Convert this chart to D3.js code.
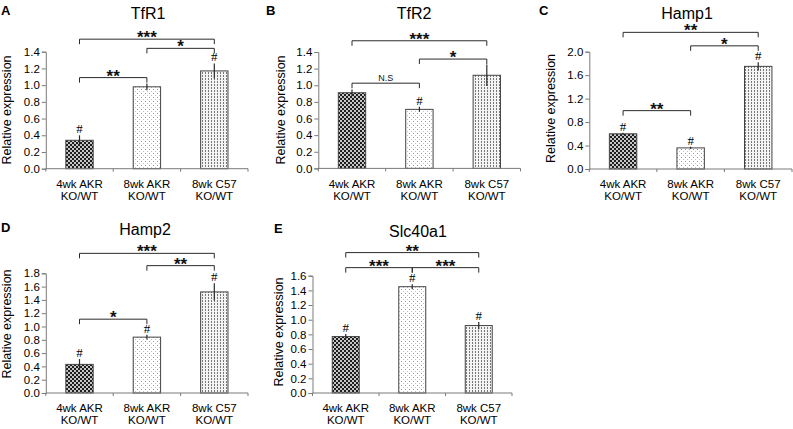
<!DOCTYPE html>
<html><head><meta charset="utf-8">
<script src="https://cdn.jsdelivr.net/npm/d3@7"></script>
<style>
html,body{margin:0;padding:0;background:#fff;}
svg{display:block;font-family:"Liberation Sans",Arial,sans-serif;}
</style></head>
<body><svg id="chart" width="793" height="429"></svg>
<script>
// ---------- data ----------
const catLine1 = ["4wk AKR", "8wk AKR", "8wk C57"];
const catLine2 = ["KO/WT", "KO/WT", "KO/WT"];

const tfr1Values = [0.34, 0.98, 1.17];
const tfr1Errors = [0.06, 0.04, 0.09];
const tfr1Hash = [true, false, true];
const tfr1Sig = [[0, 2, "***", 1.55], [1, 2, "*", 1.44], [0, 1, "**", 1.09]];

const tfr2Values = [0.91, 0.71, 1.12];
const tfr2Errors = [0.04, 0.03, 0.13];
const tfr2Hash = [false, true, false];
const tfr2Sig = [[0, 2, "***", 1.535], [1, 2, "*", 1.315], [0, 1, "N.S", 1.025]];

const hamp1Values = [0.60, 0.36, 1.75];
const hamp1Errors = [0.02, 0.02, 0.07];
const hamp1Hash = [true, true, true];
const hamp1Sig = [[0, 2, "**", 2.33], [1, 2, "*", 2.10], [0, 1, "**", 0.995]];

const hamp2Values = [0.43, 0.84, 1.52];
const hamp2Errors = [0.08, 0.035, 0.13];
const hamp2Hash = [true, true, true];
const hamp2Sig = [[0, 2, "***", 2.10], [1, 2, "**", 1.915], [0, 1, "*", 1.11]];

const slcValues = [0.77, 1.45, 0.92];
const slcErrors = [0.035, 0.035, 0.05];
const slcHash = [true, true, true];
const slcSig = [[0, 2, "**", 1.915], [0, 1, "***", 1.71], [1, 2, "***", 1.71]];

const ticks14 = [0, 0.2, 0.4, 0.6, 0.8, 1.0, 1.2, 1.4];
const ticks20 = [0, 0.4, 0.8, 1.2, 1.6, 2.0];
const ticks18 = [0, 0.2, 0.4, 0.6, 0.8, 1.0, 1.2, 1.4, 1.6, 1.8];
const ticks16 = [0, 0.2, 0.4, 0.6, 0.8, 1.0, 1.2, 1.4, 1.6];

// ---------- layout ----------
const panels = [
  {letter:"A", title:"TfR1", values:tfr1Values, errors:tfr1Errors, hash:tfr1Hash, sig:tfr1Sig, ticks:ticks14,
   x0:45.8, x1:248, yTop:51.7, yBot:168.7, titleX:148, titleY:19, lx:1, ly:15, ylx:11, yly:110},
  {letter:"B", title:"TfR2", values:tfr2Values, errors:tfr2Errors, hash:tfr2Hash, sig:tfr2Sig, ticks:ticks14,
   x0:318.3, x1:520.5, yTop:52, yBot:168.4, titleX:414, titleY:19, lx:266, ly:15, ylx:284.5, yly:110},
  {letter:"C", title:"Hamp1", values:hamp1Values, errors:hamp1Errors, hash:hamp1Hash, sig:hamp1Sig, ticks:ticks20,
   x0:589.3, x1:792, yTop:51.7, yBot:169, titleX:687, titleY:19, lx:539, ly:15, ylx:554.5, yly:108.5},
  {letter:"D", title:"Hamp2", values:hamp2Values, errors:hamp2Errors, hash:hamp2Hash, sig:hamp2Sig, ticks:ticks18,
   x0:45.8, x1:248, yTop:273.3, yBot:393, titleX:145, titleY:235, lx:1, ly:232, ylx:10.5, yly:324},
  {letter:"E", title:"Slc40a1", values:slcValues, errors:slcErrors, hash:slcHash, sig:slcSig, ticks:ticks16,
   x0:312.5, x1:512, yTop:275.7, yBot:393, titleX:418, titleY:236.5, lx:274, ly:232.5, ylx:283, yly:332}
];

const svg = d3.select("#chart");
const defs = svg.append("defs");

// pattern 1: dark with white dots
const p1 = defs.append("pattern").attr("id","pat0").attr("patternUnits","userSpaceOnUse").attr("width",4).attr("height",4);
p1.append("rect").attr("width",4).attr("height",4).attr("fill","#1e1e1e");
p1.append("circle").attr("cx",1).attr("cy",1).attr("r",1.0).attr("fill","#fff");
p1.append("circle").attr("cx",3).attr("cy",3).attr("r",1.0).attr("fill","#fff");
// pattern 2: sparse light dots
const p2 = defs.append("pattern").attr("id","pat1").attr("patternUnits","userSpaceOnUse").attr("width",4).attr("height",4);
p2.append("rect").attr("width",4).attr("height",4).attr("fill","#fff");
p2.append("rect").attr("x",1).attr("y",1).attr("width",1).attr("height",1).attr("fill","#999");
p2.append("rect").attr("x",3).attr("y",3).attr("width",1).attr("height",1).attr("fill","#c0c0c0");
// pattern 3: dense dotted columns
const p3 = defs.append("pattern").attr("id","pat2").attr("patternUnits","userSpaceOnUse").attr("width",3).attr("height",3);
p3.append("rect").attr("width",3).attr("height",3).attr("fill","#f4f4f4");
p3.append("rect").attr("x",1).attr("y",0).attr("width",1).attr("height",2).attr("fill","#777");

const axisColor = "#7a7a7a";
const inkColor = "#2a2a2a";
const fmt = d3.format(".1f");

panels.forEach(p => {
  const g = svg.append("g");
  const x = d3.scaleBand().domain(d3.range(p.values.length)).range([p.x0, p.x1])
              .paddingInner(0.594).paddingOuter(0.297);
  const yMax = p.ticks[p.ticks.length-1];
  const y = d3.scaleLinear().domain([0, yMax]).range([p.yBot, p.yTop]);

  // bars
  g.selectAll("rect.bar").data(p.values).join("rect")
    .attr("class","bar")
    .attr("x",(d,i)=>x(i)).attr("width",x.bandwidth())
    .attr("y",d=>y(d)).attr("height",d=>y(0)-y(d))
    .attr("fill",(d,i)=>`url(#pat${i})`)
    .attr("stroke","#444").attr("stroke-width",1);

  // error bars
  g.selectAll("line.err").data(p.values).join("line")
    .attr("class","err")
    .attr("x1",(d,i)=>x(i)+x.bandwidth()/2).attr("x2",(d,i)=>x(i)+x.bandwidth()/2)
    .attr("y1",(d,i)=>y(d - p.errors[i])).attr("y2",(d,i)=>y(d + p.errors[i]))
    .attr("stroke",inkColor).attr("stroke-width",1.2);

  // y axis
  const ya = g.append("g").attr("transform",`translate(${p.x0},0)`)
    .call(d3.axisLeft(y).tickValues(p.ticks).tickFormat(fmt).tickSize(4).tickPadding(2));
  ya.select(".domain").attr("stroke",axisColor);
  ya.selectAll(".tick line").attr("stroke",axisColor);
  ya.selectAll(".tick text").attr("font-size",11.5).attr("fill","#000")
    .attr("font-family","'Liberation Sans',Arial,sans-serif");

  // x axis: line with boundary ticks
  const xa = g.append("g").attr("transform",`translate(0,${p.yBot})`)
    .call(d3.axisBottom(x).tickSize(0).tickPadding(11).tickFormat(i=>catLine1[i]));
  xa.select(".domain").attr("stroke",axisColor).attr("d",`M${p.x0},0H${p.x1}`);
  xa.selectAll(".tick text").attr("font-size",11.5).attr("fill","#000")
    .attr("font-family","'Liberation Sans',Arial,sans-serif")
    .each(function(i){
      d3.select(this).append("tspan").attr("x",0).attr("dy","1.04em").text(catLine2[i]);
    });
  const bounds = d3.range(p.values.length+1).map(i => p.x0 + i*x.step());
  g.selectAll("line.xt").data(bounds).join("line").attr("class","xt")
    .attr("x1",d=>d).attr("x2",d=>d).attr("y1",p.yBot).attr("y2",p.yBot+3)
    .attr("stroke",axisColor);

  // hashes
  p.values.forEach((v,i)=>{
    if(!p.hash[i]) return;
    g.append("text").attr("x",x(i)+x.bandwidth()/2).attr("y",y(v+p.errors[i])-2)
      .attr("text-anchor","middle").attr("font-size",13)
      .attr("font-family","'Liberation Serif','Times New Roman',serif").attr("fill","#000").text("#");
  });

  // significance brackets
  p.sig.forEach(s=>{
    const xa1 = x(s[0])+x.bandwidth()/2, xb1 = x(s[1])+x.bandwidth()/2, yy = y(s[3]);
    g.append("path").attr("d",`M${xa1},${yy+5}V${yy}H${xb1}V${yy+5}`)
      .attr("fill","none").attr("stroke",inkColor).attr("stroke-width",1);
    const isNS = s[2]==="N.S";
    g.append("text").attr("x",(xa1+xb1)/2).attr("y", isNS ? yy-2.5 : yy+4)
      .attr("text-anchor","middle").attr("font-size", isNS ? 9 : 17)
      .attr("font-weight", isNS ? "normal" : "bold")
      .attr("fill","#111").text(s[2]);
  });

  // title, letter, y label
  g.append("text").attr("x",p.titleX).attr("y",p.titleY).attr("text-anchor","middle")
    .attr("font-size",16).attr("fill","#000").text(p.title);
  g.append("text").attr("x",p.lx).attr("y",p.ly).attr("font-size",13).attr("font-weight","bold")
    .attr("fill","#000").text(p.letter);
  g.append("text").attr("transform",`translate(${p.ylx},${p.yly}) rotate(-90)`)
    .attr("text-anchor","middle").attr("font-size",12.5).attr("fill","#000").text("Relative expression");
});
</script></body></html>
